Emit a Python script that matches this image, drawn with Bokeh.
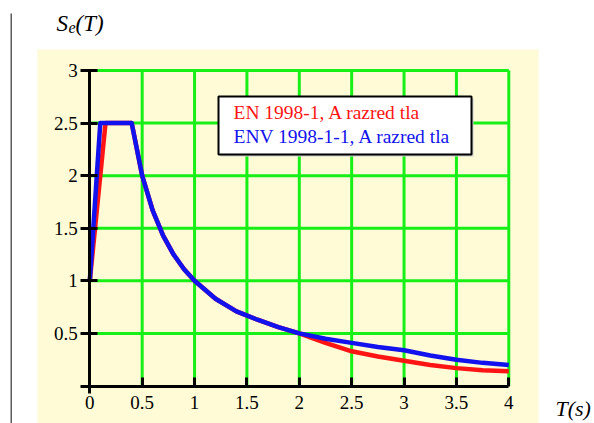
from bokeh.plotting import figure
from bokeh.models import Range1d, LinearAxis, FixedTicker, Label, BoxAnnotation
from bokeh.embed import file_html
from bokeh.resources import INLINE

# ---------------- data ----------------
T_en = [0.0, 0.15, 0.4, 0.5, 0.6, 0.7, 0.8, 0.9, 1.0, 1.2, 1.4, 1.6, 1.8, 2.0,
        2.25, 2.5, 2.75, 3.0, 3.25, 3.5, 3.75, 4.0]
Se_en = [1.0, 2.5, 2.5, 2.0, 1.67, 1.43, 1.25, 1.11, 1.0, 0.83, 0.71, 0.63, 0.56, 0.5,
         0.41, 0.33, 0.28, 0.24, 0.20, 0.17, 0.15, 0.14]

T_env = [0.0, 0.1, 0.4, 0.5, 0.6, 0.7, 0.8, 0.9, 1.0, 1.2, 1.4, 1.6, 1.8, 2.0,
         2.25, 2.5, 2.75, 3.0, 3.25, 3.5, 3.75, 4.0]
Se_env = [1.0, 2.5, 2.5, 2.0, 1.67, 1.43, 1.25, 1.11, 1.0, 0.83, 0.71, 0.63, 0.56, 0.5,
          0.45, 0.41, 0.37, 0.34, 0.29, 0.25, 0.22, 0.20]

x_ticks = [0, 0.5, 1, 1.5, 2, 2.5, 3, 3.5, 4]
y_ticks = [0.5, 1, 1.5, 2, 2.5, 3]
x_grid = [0.5, 1, 1.5, 2, 2.5, 3, 3.5, 4]
y_grid = [0.5, 1, 1.5, 2, 2.5, 3]

legend_labels = ["EN 1998-1, A razred tla", "ENV 1998-1-1, A razred tla"]
y_label = ["S", "e", "(T)"]
x_label = "T(s)"

# ---------------- layout helpers (page pixel -> data) ----------------
OX, SX = 89.3, 104.75
OY, SY = 385.5, 105.17
W, H = 594, 423
TXT_SHIFT = 8  # labels render this much lower than requested


def X(px):
    return (px - OX) / SX


def Y(py):
    return (OY - py) / SY


def YT(py):
    return Y(py - TXT_SHIFT)


RED = "#ff1414"
BLUE = "#1212ee"
GREEN = "#16f016"
CREAM = "#fffbd6"
SERIF = "Liberation Serif"

p = figure(width=W, height=H, output_backend="svg", toolbar_location=None,
           x_range=Range1d(X(0), X(W)), y_range=Range1d(Y(H), Y(0)),
           x_axis_location=None, y_axis_location=None, min_border=0)
p.xgrid.visible = False
p.ygrid.visible = False
p.outline_line_color = None
p.background_fill_color = "white"
p.border_fill_color = "white"

# cream panel
p.quad(left=[X(37)], right=[X(538)], top=[Y(49)], bottom=[Y(H)],
       fill_color=CREAM, line_color=None)

# thin page line on the left
p.segment(x0=[X(10.7)], y0=[Y(13)], x1=[X(10.7)], y1=[Y(H)],
          line_color="#333333", line_width=1.2)

# green grid (bounded to the data area)
p.segment(x0=x_grid, y0=[0] * len(x_grid), x1=x_grid, y1=[max(y_grid)] * len(x_grid),
          line_color=GREEN, line_width=3)
p.segment(x0=[0] * len(y_grid), y0=y_grid, x1=[max(x_grid)] * len(y_grid), y1=y_grid,
          line_color=GREEN, line_width=3)

# curves
p.line(T_en, Se_en, line_color=RED, line_width=4.5, line_join="round")
p.line(T_env, Se_env, line_color=BLUE, line_width=4.5, line_join="round")

# axes
xaxis = LinearAxis(fixed_location=0, ticker=FixedTicker(ticks=x_ticks),
                   bounds=(X(80), 4))
xaxis.axis_line_width = 3
xaxis.axis_line_color = "black"
xaxis.major_tick_line_width = 3
xaxis.major_tick_in = 9
xaxis.major_tick_out = 0
xaxis.minor_tick_line_color = None
xaxis.major_label_text_font = SERIF
xaxis.major_label_text_font_size = "19px"
xaxis.major_label_text_color = "black"
xaxis.major_label_standoff = 10
p.add_layout(xaxis, "below")

yaxis = LinearAxis(fixed_location=0, ticker=FixedTicker(ticks=y_ticks),
                   bounds=(Y(393), 3))
yaxis.axis_line_width = 3
yaxis.axis_line_color = "black"
yaxis.major_tick_line_width = 3
yaxis.major_tick_in = 8
yaxis.major_tick_out = 9
yaxis.minor_tick_line_color = None
yaxis.major_label_text_font = SERIF
yaxis.major_label_text_font_size = "19px"
yaxis.major_label_text_color = "black"
yaxis.major_label_standoff = 3
yaxis.major_label_orientation = "horizontal"
p.add_layout(yaxis, "left")

# legend box (with soft shadow)
p.add_layout(BoxAnnotation(left=X(220), right=X(473), top=Y(98), bottom=Y(156),
                           fill_color="#cccccc", fill_alpha=1, line_color=None))
p.add_layout(BoxAnnotation(left=X(218), right=X(471), top=Y(96), bottom=Y(154),
                           fill_color="white", fill_alpha=1, line_color="black",
                           line_alpha=1, line_width=2))
for lbl, col, base in zip(legend_labels, [RED, BLUE], [120, 144]):
    p.add_layout(Label(x=X(233), y=YT(base), text=lbl, text_color=col,
                       text_font=SERIF, text_font_size="19.5px",
                       text_baseline="alphabetic", text_align="left"))

# axis titles
p.add_layout(Label(x=X(56), y=YT(31), text=y_label[0], text_font=SERIF,
                   text_font_style="italic", text_font_size="23px",
                   text_color="black", text_baseline="alphabetic"))
p.add_layout(Label(x=X(68), y=YT(35), text=y_label[1], text_font=SERIF,
                   text_font_style="italic", text_font_size="16px",
                   text_color="black", text_baseline="alphabetic"))
p.add_layout(Label(x=X(75), y=YT(31), text=y_label[2], text_font=SERIF,
                   text_font_style="italic", text_font_size="23px",
                   text_color="black", text_baseline="alphabetic"))
p.add_layout(Label(x=X(555), y=YT(416), text=x_label, text_font=SERIF,
                   text_font_style="italic", text_font_size="22px",
                   text_color="black", text_baseline="alphabetic"))

open("out.html", "w").write(file_html(p, INLINE))
